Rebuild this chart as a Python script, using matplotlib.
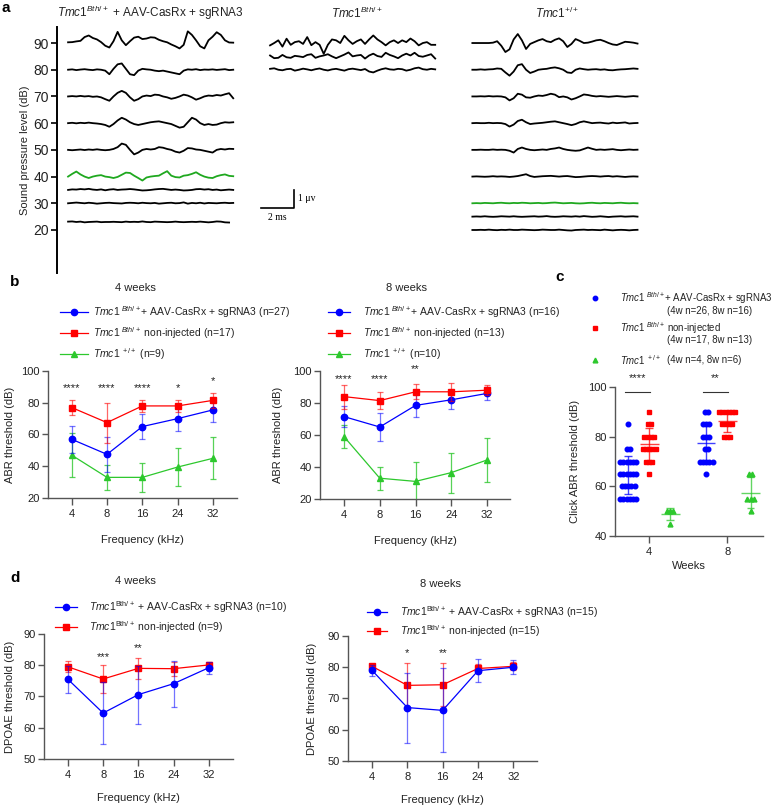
import numpy as np
import matplotlib
matplotlib.use("Agg")
import matplotlib.pyplot as plt
from matplotlib.lines import Line2D

plt.rcParams['font.family'] = ['Liberation Sans', 'DejaVu Sans']
plt.rcParams['mathtext.fontset'] = 'custom'
plt.rcParams['mathtext.rm'] = 'Liberation Sans'
plt.rcParams['mathtext.it'] = 'Liberation Sans:italic'
plt.rcParams['mathtext.bf'] = 'Liberation Sans:bold'

# ---------------- data ----------------
# panel a: ABR waveforms (uV, sampled every 0.25 ms), one list per sound level
DT = 0.25
spl_ticks = [20, 30, 40, 50, 60, 70, 80, 90]

inj_levels = [90, 80, 70, 60, 50, 40, 35, 30, 23]
inj_traces = [
    [0.04, 0.05, 0.09, 0.12, 0.33, 0.42, 0.28, 0.2, 0.05, -0.15, -0.25, 0.1, 0.62, 0.15, -0.12, 0.1, 0.3, 0.35, 0.22, 0.25,
     0.32, 0.3, 0.18, 0.1, 0.04, -0.08, -0.18, -0.3, -0.1, 0.65, 0.45, 0.15, -0.18, -0.3, 0.15, 0.35, 0.6, 0.45, 0.15, 0.03, 0.02],
    [0.0, 0.02, -0.02, 0.01, 0.03, 0.0, -0.02, 0.02, 0.0, -0.05, -0.25, 0.05, 0.3, 0.35, 0.05, -0.25, -0.3, -0.05, 0.05, 0.02,
     0.0, -0.05, -0.08, -0.05, -0.1, -0.15, -0.2, -0.25, -0.05, 0.02, 0.0, 0.03, -0.02, 0.01, 0.0, 0.02, -0.01, 0.01, 0.03, -0.02, 0.0],
    [0.0, 0.02, 0.0, 0.03, 0.0, 0.02, -0.02, 0.0, -0.05, -0.15, -0.24, 0.0, 0.2, 0.31, 0.2, -0.05, -0.24, -0.15, 0.0, 0.05,
     0.02, 0.1, 0.08, 0.0, -0.05, -0.13, -0.08, 0.0, 0.1, 0.05, -0.05, -0.18, -0.1, 0.0, 0.05, 0.03, 0.08, 0.05, 0.12, 0.18, -0.1],
    [0.0, 0.02, -0.01, 0.02, 0.0, 0.03, 0.0, -0.02, -0.05, -0.1, -0.2, -0.05, 0.15, 0.3, 0.2, 0.05, -0.05, -0.1, -0.05, 0.0,
     0.05, 0.08, 0.1, 0.05, 0.0, -0.05, -0.15, -0.25, -0.2, 0.05, 0.3, 0.2, 0.0, -0.1, -0.05, -0.1, -0.08, 0.0, 0.05, 0.03, 0.05],
    [0.0, -0.02, 0.0, 0.02, -0.01, 0.02, 0.0, 0.03, 0.0, -0.02, 0.0, 0.05, 0.15, 0.35, 0.28, 0.0, -0.25, -0.15, 0.0, 0.05,
     0.02, 0.05, 0.15, 0.12, 0.05, 0.0, -0.1, -0.15, -0.05, 0.1, 0.08, 0.02, 0.0, -0.05, -0.1, -0.15, 0.0, 0.05, 0.02, 0.06, 0.05],
    [0.0, 0.15, 0.28, 0.12, 0.0, -0.08, 0.0, 0.05, 0.08, 0.0, -0.03, -0.08, -0.02, 0.1, 0.22, 0.2, 0.05, -0.08, -0.22, -0.05,
     0.0, 0.03, 0.05, 0.18, 0.3, 0.05, -0.03, -0.05, 0.05, 0.08, 0.15, 0.24, 0.1, 0.0, -0.06, -0.08, 0.02, 0.08, 0.12, 0.04, 0.02],
    [0.0, 0.03, 0.02, 0.05, 0.03, 0.06, 0.02, 0.0, 0.03, -0.02, 0.02, 0.04, 0.0, 0.02, 0.03, 0.05, 0.03, 0.0, -0.03, -0.02,
     0.0, 0.03, 0.05, 0.06, 0.03, 0.0, 0.02, 0.0, -0.03, -0.02, 0.0, 0.04, 0.05, 0.02, 0.04, 0.0, 0.02, -0.02, 0.0, 0.02, 0.0],
    [0.0, 0.02, 0.04, 0.02, 0.0, 0.03, 0.01, -0.02, 0.0, 0.02, 0.03, 0.01, 0.0, -0.01, 0.02, 0.03, 0.02, 0.0, 0.03, 0.01,
     0.0, 0.02, -0.02, 0.0, 0.02, 0.03, 0.0, 0.01, 0.05, -0.02, 0.02, 0.0, 0.03, -0.01, 0.02, 0.01, 0.0, 0.02, 0.03, 0.01, 0.02],
    [0.02, 0.03, 0.0, 0.02, -0.02, 0.0, 0.01, 0.02, -0.01, 0.0, 0.0, 0.01, 0.0, -0.01, 0.02, 0.0, 0.01, 0.0, 0.03, 0.0,
     -0.01, 0.02, 0.01, 0.0, -0.01, 0.0, 0.02, 0.0, -0.01, 0.0, 0.01, 0.0, 0.02, 0.0, -0.02, 0.0, 0.03, 0.02, -0.02, -0.03],
]
inj_threshold = 40

bth_levels = [90, 85, 80]
bth_traces = [
    [-0.13, 0.0, 0.15, -0.2, 0.24, -0.1, 0.05, 0.1, -0.05, 0.33, -0.12, 0.05, -0.1, -0.6, -0.1, 0.2, 0.15, 0.0, 0.4, 0.15,
     -0.05, 0.1, 0.2, -0.05, 0.2, 0.42, 0.2, 0.05, -0.13, 0.05, 0.15, 0.0, 0.15, 0.05, 0.25, 0.1, -0.13, 0.0, 0.05, -0.1, -0.1],
    [0.05, -0.1, -0.08, 0.08, -0.05, -0.08, 0.03, 0.0, -0.04, 0.08, 0.12, -0.08, 0.0, 0.05, 0.12, 0.0, -0.1, 0.0, 0.1, 0.22,
     0.0, 0.05, 0.08, -0.12, 0.05, 0.15, 0.02, -0.03, 0.2, 0.08, 0.0, -0.1, 0.05, 0.15, 0.05, 0.2, 0.02, -0.02, 0.05, 0.12, -0.12],
    [0.05, 0.08, 0.0, -0.03, 0.03, 0.05, -0.05, 0.0, 0.06, 0.02, -0.03, 0.03, 0.07, 0.0, -0.04, 0.02, 0.05, 0.0, -0.05, 0.03,
     0.06, 0.02, -0.02, 0.04, -0.1, -0.15, -0.05, 0.03, 0.08, 0.02, 0.0, 0.05, 0.03, -0.05, 0.0, 0.08, 0.12, 0.03, 0.0, 0.05, 0.02],
]

wt_levels = [90, 80, 70, 60, 50, 40, 30, 25, 20]
wt_traces = [
    [0, 0, 0, 0, 0.0, 0.02, 0.1, -0.15, -0.5, -0.35, 0.2, 0.5, 0.15, -0.33, -0.05, 0.05, 0.15, 0.22, 0.1, 0.05,
     0.18, 0.26, 0.1, -0.22, -0.05, 0.22, 0.12, 0.0, 0.02, 0.08, 0.15, 0.18, 0.1, 0.0, -0.08, -0.11, -0.02, 0.07, 0.05, 0.02, -0.03],
    [0.0, 0.0, 0.02, 0.0, 0.02, 0.03, 0.07, 0.05, -0.15, -0.33, -0.1, 0.25, 0.31, 0.0, -0.18, -0.1, 0.0, 0.03, 0.05, 0.1,
     0.13, 0.08, 0.0, -0.15, -0.18, 0.0, 0.07, 0.03, 0.0, 0.02, 0.03, 0.0, 0.02, -0.02, -0.03, 0.0, 0.02, 0.03, 0.05, 0.07, 0.05],
    [0.0, 0.0, 0.01, 0.0, 0.02, 0.0, 0.01, 0.0, -0.05, -0.22, -0.1, 0.15, 0.1, -0.05, -0.07, 0.0, 0.05, 0.03, 0.08, 0.15,
     0.1, -0.04, 0.0, -0.05, -0.17, -0.1, 0.0, 0.11, 0.08, 0.03, 0.0, 0.02, 0.0, -0.02, 0.0, 0.02, 0.0, -0.02, 0.0, 0.02, 0.0],
    [0.0, 0.01, 0.0, 0.0, 0.02, 0.0, 0.01, 0.0, -0.05, -0.19, -0.08, 0.12, 0.19, 0.05, -0.05, -0.02, 0.0, 0.02, 0.05, 0.08,
     0.1, 0.05, 0.0, -0.05, -0.11, -0.05, 0.05, 0.1, 0.05, 0.0, 0.02, 0.03, 0.0, -0.02, 0.03, 0.0, 0.02, 0.04, -0.02, 0.0, 0.01],
    [0.0, 0.0, 0.01, 0.0, 0.0, 0.02, 0.0, 0.01, 0.0, -0.05, -0.15, 0.05, 0.13, 0.05, 0.0, -0.02, 0.0, 0.02, 0.0, 0.05,
     0.08, 0.13, 0.05, 0.0, -0.03, -0.05, -0.03, 0.05, 0.13, 0.06, 0.0, 0.02, 0.0, 0.02, 0.04, 0.0, -0.02, 0.0, 0.02, 0.0, 0.01],
    [0.0, 0.01, 0.0, -0.01, 0.0, 0.02, 0.0, 0.01, 0.0, -0.02, 0.0, 0.03, 0.08, 0.13, 0.03, -0.02, 0.0, 0.02, 0.03, 0.04,
     0.02, 0.0, 0.02, 0.03, 0.0, -0.03, -0.02, 0.0, 0.02, 0.03, 0.02, 0.0, 0.02, 0.03, 0.0, 0.02, 0.0, -0.02, 0.0, 0.01, 0.0],
    [0.0, 0.01, 0.0, 0.02, 0.01, 0.0, 0.02, 0.03, 0.01, 0.0, 0.02, 0.01, 0.03, 0.02, 0.0, 0.01, 0.02, 0.0, 0.01, 0.03,
     0.04, 0.02, 0.0, 0.01, 0.02, 0.0, -0.01, 0.0, 0.02, 0.03, 0.01, 0.0, 0.02, 0.01, 0.0, 0.02, 0.03, 0.01, 0.0, 0.01, 0.0],
    [0.0, 0.01, 0.0, 0.02, 0.0, -0.01, 0.0, 0.02, 0.01, 0.0, 0.02, 0.0, -0.01, 0.0, 0.01, 0.02, 0.0, 0.01, 0.03, 0.0,
     -0.01, 0.0, 0.02, 0.01, 0.0, 0.02, 0.0, 0.03, 0.01, -0.01, 0.0, 0.02, 0.0, -0.02, 0.0, 0.01, 0.02, 0.0, 0.01, 0.02, 0.0],
    [0.0, 0.0, 0.01, 0.0, 0.02, 0.0, -0.01, 0.01, 0.0, 0.02, 0.0, 0.0, 0.02, 0.01, 0.0, -0.01, 0.0, 0.02, 0.01, 0.0,
     0.0, 0.02, 0.0, -0.02, -0.03, 0.0, 0.01, 0.02, 0.0, 0.01, 0.0, -0.01, 0.02, 0.0, -0.02, 0.0, 0.01, 0.0, -0.02, 0.0, 0.01],
]
wt_threshold = 30

# panel b: ABR thresholds (mean, SD) per frequency
freq_labels = ['4', '8', '16', '24', '32']
abr4_inj_mean = [57, 47.5, 65, 70, 75.5]
abr4_inj_sd = [8.5, 11, 7.8, 7.7, 7.4]
abr4_non_mean = [77, 67.5, 78, 78, 81.5]
abr4_non_sd = [5, 12.6, 3.6, 3.8, 4.6]
abr4_wt_mean = [47, 33, 33, 39.5, 45]
abr4_wt_sd = [13.8, 8, 9.2, 12, 13.3]
abr4_sig = ['****', '****', '****', '*', '*']

abr8_inj_mean = [71.5, 65, 78.5, 82, 86]
abr8_inj_sd = [6.7, 9, 7.2, 5.7, 4]
abr8_non_mean = [84, 81.5, 87, 87, 88]
abr8_non_sd = [7.5, 5.5, 4.7, 5.5, 3]
abr8_wt_mean = [59, 33, 31, 36.5, 44.4]
abr8_wt_sd = [7, 7.3, 12.3, 12.5, 13.7]
abr8_sig = ['****', '****', '**', '', '']

# panel c: click ABR thresholds of individual ears
click_weeks = ['4', '8']
click_inj_4w = [85, 75, 75] + [70] * 6 + [65] * 6 + [60] * 5 + [55] * 6
click_non_4w = [90, 85, 85] + [80] * 4 + [75] * 5 + [70] * 3 + [65]
click_wt_4w = [50, 50, 50, 45]
click_inj_8w = [90, 90, 85, 85, 85, 80, 80, 80, 75, 75] + [70] * 5 + [65]
click_non_8w = [90] * 6 + [85] * 4 + [80] * 3
click_wt_8w = [65, 65, 55, 55, 55, 50]
click_sig = ['****', '**']

# panel d: DPOAE thresholds (mean, SD)
dp4_inj_mean = [75.5, 64.7, 70.6, 74.1, 79.2]
dp4_inj_sd = [4.3, 9.9, 9.3, 7.4, 1.9]
dp4_non_mean = [79.5, 75.6, 79, 78.9, 80.1]
dp4_non_sd = [1.7, 4.6, 3.3, 2.2, 1.0]
dp4_sig = ['', '***', '**', '', '']

dp8_inj_mean = [79, 67.1, 66.2, 78.9, 80]
dp8_inj_sd = [1.8, 11.2, 13.4, 3.6, 2.3]
dp8_non_mean = [80.3, 74.2, 74.4, 79.6, 80.3]
dp8_non_sd = [0.8, 7.2, 6.8, 1.5, 1.3]
dp8_sig = ['', '*', '**', '', '']

# ---------------- style ----------------
BLUE = '#0000FF'
RED = '#FF0000'
GREEN = '#2DC82D'
TRACE_GREEN = '#1FA81F'
SPINE = '#555555'
TXT = '#222222'
FS = 7.5
TICK_FS = 8

W, H = 778, 808
fig = plt.figure(figsize=(W / 100, H / 100), dpi=100)


def rect(l, t, r, b):
    return [l / W, 1 - b / H, (r - l) / W, (b - t) / H]


def fx(x):
    return x / W


def fy(y):
    return 1 - y / H


def ftext(x, y, s, **kw):
    kw.setdefault('fontsize', FS)
    kw.setdefault('va', 'center')
    kw.setdefault('color', TXT)
    fig.text(fx(x), fy(y), s, **kw)


def leg_key(x0, x1, y, color, marker, line=True, ms=4.5):
    if line:
        fig.add_artist(Line2D([fx(x0), fx(x1)], [fy(y), fy(y)], transform=fig.transFigure,
                              color=color, lw=0.9))
    fig.add_artist(Line2D([fx((x0 + x1) / 2)], [fy(y)], transform=fig.transFigure,
                          color=color, marker=marker, ms=ms, ls='none'))


def style(ax, yticks, ylim, xlabels, xlim):
    for s in ['top', 'right']:
        ax.spines[s].set_visible(False)
    for s in ['left', 'bottom']:
        ax.spines[s].set_color(SPINE)
        ax.spines[s].set_linewidth(1.0)
    ax.set_ylim(*ylim)
    ax.set_yticks(yticks)
    ax.set_xlim(*xlim)
    ax.set_xticks(range(len(xlabels)))
    ax.set_xticklabels(xlabels)
    ax.tick_params(axis='both', labelsize=TICK_FS, colors=SPINE, labelcolor=TXT, length=4, width=1.0, pad=2)
    ax.tick_params(axis='x', length=5, pad=3)


# ---------------- panel a ----------------
UV = 6.74  # axis units per microvolt
ax_a = fig.add_axes(rect(57, 27, 640, 273))
ax_a.set_xlim(0, 35.3)
ax_a.set_ylim(3.9, 96)
for s in ['top', 'right', 'bottom']:
    ax_a.spines[s].set_visible(False)
ax_a.spines['left'].set_linewidth(1.4)
ax_a.set_xticks([])
ax_a.set_yticks(spl_ticks)
ax_a.tick_params(axis='y', labelsize=10, length=4, width=1.2, pad=2, labelcolor=TXT)
ax_a.set_ylabel('Sound pressure level (dB)', fontsize=8, color=TXT)
ax_a.yaxis.set_label_coords(-0.046, 0.5)


def draw_column(x0, levels, traces, threshold):
    for lev, tr in zip(levels, traces):
        t = x0 + np.arange(len(tr)) * DT
        c = TRACE_GREEN if lev == threshold else 'black'
        ax_a.plot(t, lev + UV * np.asarray(tr), color=c, lw=1.3, solid_joinstyle='round')


draw_column(0.67, inj_levels, inj_traces, inj_threshold)
draw_column(12.9, bth_levels, bth_traces, None)
draw_column(25.15, wt_levels, wt_traces, wt_threshold)

# scale bar 2 ms / 1 uV
sb_x, sb_y = 12.36, 28.2
ax_a.plot([sb_x, sb_x + 2, sb_x + 2], [sb_y, sb_y, sb_y + UV], color='black', lw=1.2)
serif = ['Liberation Serif', 'DejaVu Serif']
ax_a.text(sb_x + 2.25, sb_y + UV * 0.55, '1 μv', fontsize=7, family=serif, va='center')
ax_a.text(sb_x + 1, sb_y - 1.8, '2 ms', fontsize=7, family=serif, va='top', ha='center')

ftext(150, 13, r'$\mathit{Tmc1}^{\mathit{Bth/+}}$ + AAV-CasRx + sgRNA3', fontsize=8.5, ha='center')
ftext(357, 13, r'$\mathit{Tmc1}^{\mathit{Bth/+}}$', fontsize=8.5, ha='center')
ftext(557, 13, r'$\mathit{Tmc1}^{+/+}$', fontsize=8.5, ha='center')

# ---------------- panel b ----------------
xb = np.arange(len(freq_labels))


def err_line(ax, mean, sd, color, marker, ecolor, z):
    ax.errorbar(xb, mean, yerr=sd, color=color, marker=marker, ms=4.6, lw=0.9,
                elinewidth=0.9, ecolor=ecolor, capsize=2.2, capthick=0.9, zorder=z, clip_on=False)


def stars(ax, labels, ys):
    for i, (s, y) in enumerate(zip(labels, ys)):
        if s:
            ax.text(i, y, s, ha='center', va='center', fontsize=8, color=TXT, clip_on=False)


ax_b1 = fig.add_axes(rect(48, 371, 237, 498))
style(ax_b1, [20, 40, 60, 80, 100], (20, 100), freq_labels, (-0.67, 4.68))
err_line(ax_b1, abr4_wt_mean, abr4_wt_sd, GREEN, '^', (0.18, 0.78, 0.18, 0.8), 3)
err_line(ax_b1, abr4_inj_mean, abr4_inj_sd, BLUE, 'o', (0, 0, 1, 0.55), 4)
err_line(ax_b1, abr4_non_mean, abr4_non_sd, RED, 's', (1, 0, 0, 0.6), 5)
stars(ax_b1, abr4_sig, [89, 89, 89, 89, 93.5])
ax_b1.set_ylabel('ABR threshold (dB)', fontsize=8, color=TXT)
ax_b1.yaxis.set_label_coords(-0.175, 0.5)
ax_b1.set_xlabel('Frequency (kHz)', fontsize=8, color=TXT)
ax_b1.xaxis.set_label_coords(0.5, -0.29)

ax_b2 = fig.add_axes(rect(320, 371, 510, 499))
style(ax_b2, [20, 40, 60, 80, 100], (20, 100), freq_labels, (-0.67, 4.64))
err_line(ax_b2, abr8_wt_mean, abr8_wt_sd, GREEN, '^', (0.18, 0.78, 0.18, 0.8), 3)
err_line(ax_b2, abr8_inj_mean, abr8_inj_sd, BLUE, 'o', (0, 0, 1, 0.55), 4)
err_line(ax_b2, abr8_non_mean, abr8_non_sd, RED, 's', (1, 0, 0, 0.6), 5)
for ln in ax_b2.lines + ax_b2.collections:
    ln.set_clip_on(True)
stars(ax_b2, abr8_sig, [95, 95, 101.5, 0, 0])
ax_b2.set_ylabel('ABR threshold (dB)', fontsize=8, color=TXT)
ax_b2.yaxis.set_label_coords(-0.195, 0.5)
ax_b2.set_xlabel('Frequency (kHz)', fontsize=8, color=TXT)
ax_b2.xaxis.set_label_coords(0.5, -0.29)

ftext(135, 288, '4 weeks', fontsize=8, ha='center')
ftext(407, 288, '8 weeks', fontsize=8, ha='center')

lab_b4 = [r'$\mathit{Tmc1}^{\ \mathit{Bth/+}}$+ AAV-CasRx + sgRNA3 (n=27)',
          r'$\mathit{Tmc1}^{\ \mathit{Bth/+}}$ non-injected (n=17)',
          r'$\mathit{Tmc1}^{\ +/+}$ (n=9)']
lab_b8 = [r'$\mathit{Tmc1}^{\ \mathit{Bth/+}}$+ AAV-CasRx + sgRNA3 (n=16)',
          r'$\mathit{Tmc1}^{\ \mathit{Bth/+}}$ non-injected (n=13)',
          r'$\mathit{Tmc1}^{\ +/+}$ (n=10)']
keys = [(BLUE, 'o'), (RED, 's'), (GREEN, '^')]
for (x0, x1, xt), labs in [((60, 88, 93), lab_b4), ((328, 350, 363), lab_b8)]:
    for (c, m), lab, y in zip(keys, labs, (312, 333, 354)):
        leg_key(x0, x1, y, c, m)
        ftext(xt, y, lab)

# ---------------- panel c ----------------
ax_c = fig.add_axes(rect(615, 387, 763, 536))
style(ax_c, [40, 60, 80, 100], (40, 100), click_weeks, (-0.44, 1.46))
ax_c.set_ylabel('Click ABR threshold (dB)', fontsize=8, color=TXT)
ax_c.yaxis.set_label_coords(-0.236, 0.5)
ax_c.set_xlabel('Weeks', fontsize=8, color=TXT)
ax_c.xaxis.set_label_coords(0.5, -0.17)


def swarm_x(vals, center, step=0.041):
    vals = np.asarray(vals)
    xs = np.empty(len(vals))
    for v in np.unique(vals):
        idx = np.where(vals == v)[0]
        xs[idx] = center + (np.arange(len(idx)) - (len(idx) - 1) / 2) * step
    return xs


def click_group(vals, center, color, marker, ms):
    vals = np.asarray(vals, dtype=float)
    ax_c.plot(swarm_x(vals, center), vals, ls='none', marker=marker, color=color, ms=ms, zorder=3)
    m, sd = vals.mean(), vals.std(ddof=1)
    ax_c.hlines(m, center - 0.12, center + 0.12, color=color, lw=1.0, alpha=0.75, zorder=4)
    ax_c.hlines([m - sd, m + sd], center - 0.05, center + 0.05, color=color, lw=1.0, alpha=0.75, zorder=4)
    ax_c.vlines(center, m - sd, m + sd, color=color, lw=1.0, alpha=0.75, zorder=4)


for w, (inj, non, wt) in enumerate([(click_inj_4w, click_non_4w, click_wt_4w),
                                     (click_inj_8w, click_non_8w, click_wt_8w)]):
    click_group(inj, w - 0.27, BLUE, 'o', 3.3)
    click_group(non, w, RED, 's', 3.1)
    click_group(wt, w + 0.27 + 0.03 * w, GREEN, '^', 3.5)
    ax_c.plot([w - 0.31, w + 0.01], [98, 98], color='#333333', lw=0.8, clip_on=False)
    ax_c.text(w - 0.15, 103.5, click_sig[w], ha='center', va='center', fontsize=8, color=TXT)

ftext(555, 277, 'c', fontsize=11, weight='bold', color='black')
leg_key(595, 595, 298, BLUE, 'o', line=False, ms=3.2)
leg_key(595, 595, 328, RED, 's', line=False, ms=3.0)
leg_key(595, 595, 360, GREEN, '^', line=False, ms=3.4)
ftext(620, 298, r'$\mathit{Tmc1}^{\ \mathit{Bth/+}}$+ AAV-CasRx + sgRNA3', fontsize=6.9)
ftext(667, 311, '(4w n=26, 8w n=16)', fontsize=6.9)
ftext(620, 328, r'$\mathit{Tmc1}^{\ \mathit{Bth/+}}$ non-injected', fontsize=6.9)
ftext(667, 340, '(4w n=17, 8w n=13)', fontsize=6.9)
ftext(620, 360, r'$\mathit{Tmc1}^{\ +/+}$', fontsize=6.9)
ftext(667, 360, '(4w n=4, 8w n=6)', fontsize=6.9)

# ---------------- panel d ----------------
ax_d1 = fig.add_axes(rect(44, 634, 233, 759))
style(ax_d1, [50, 60, 70, 80, 90], (50, 90), freq_labels, (-0.68, 4.69))
err_line(ax_d1, dp4_non_mean, dp4_non_sd, RED, 's', (1, 0, 0, 0.6), 4)
err_line(ax_d1, dp4_inj_mean, dp4_inj_sd, BLUE, 'o', (0, 0, 1, 0.55), 5)
stars(ax_d1, dp4_sig, [0, 82.6, 85.5, 0, 0])
ax_d1.set_ylabel('DPOAE threshold (dB)', fontsize=8, color=TXT)
ax_d1.yaxis.set_label_coords(-0.153, 0.5)
ax_d1.set_xlabel('Frequency (kHz)', fontsize=8, color=TXT)
ax_d1.xaxis.set_label_coords(0.5, -0.27)

ax_d2 = fig.add_axes(rect(348, 636, 537, 761))
style(ax_d2, [50, 60, 70, 80, 90], (50, 90), freq_labels, (-0.68, 4.67))
err_line(ax_d2, dp8_non_mean, dp8_non_sd, RED, 's', (1, 0, 0, 0.6), 4)
err_line(ax_d2, dp8_inj_mean, dp8_inj_sd, BLUE, 'o', (0, 0, 1, 0.55), 5)
stars(ax_d2, dp8_sig, [0, 84.6, 84.6, 0, 0])
ax_d2.set_ylabel('DPOAE threshold (dB)', fontsize=8, color=TXT)
ax_d2.yaxis.set_label_coords(-0.164, 0.5)
ax_d2.set_xlabel('Frequency (kHz)', fontsize=8, color=TXT)
ax_d2.xaxis.set_label_coords(0.5, -0.27)

ftext(135, 581, '4 weeks', fontsize=8, ha='center')
ftext(440, 584, '8 weeks', fontsize=8, ha='center')
lab_d4 = [r'$\mathit{Tmc1}^{\mathrm{Bth/+}}$ + AAV-CasRx + sgRNA3 (n=10)',
          r'$\mathit{Tmc1}^{\mathrm{Bth/+}}$ non-injected (n=9)']
lab_d8 = [r'$\mathit{Tmc1}^{\mathrm{Bth/+}}$ + AAV-CasRx + sgRNA3 (n=15)',
          r'$\mathit{Tmc1}^{\mathrm{Bth/+}}$ non-injected (n=15)']
for (x0, x1, xt, rows), labs in [((55, 77, 89, (607, 627)), lab_d4), ((367, 387, 400, (612, 631)), lab_d8)]:
    for (c, m), lab, y in zip(keys, labs, rows):
        leg_key(x0, x1, y, c, m)
        ftext(xt, y, lab)

# panel letters
ftext(2, 8, 'a', fontsize=11, weight='bold', color='black')
ftext(10, 282, 'b', fontsize=11, weight='bold', color='black')
ftext(10, 578, 'd', fontsize=11, weight='bold', color='black')

fig.savefig('out.png', dpi=100)
